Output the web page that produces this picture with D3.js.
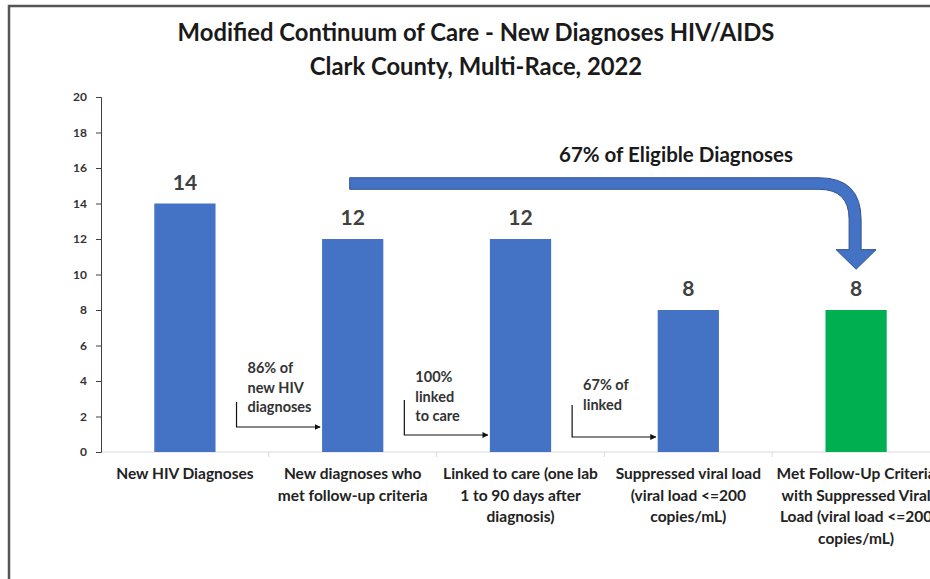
<!DOCTYPE html>
<meta charset="utf-8">
<html>
<style>
	body { margin: 0; background: #fff; }
	text { font-family: Lato, "Open Sans", sans-serif; font-weight: bold; }
	.title { font-size: 23.8px; fill: #1a1a1a; }
	.ylab text { font-size: 12px; fill: #333; }
	.cat { font-size: 15.5px; fill: #222; }
	.val { font-size: 21px; fill: #404040; }
	.note { font-size: 14.5px; fill: #333; }
</style>
<body>
	<script src="https://d3js.org/d3.v7.min.js"></script>
	<script type="text/javascript">
		// chart data
		var categories = ["New HIV Diagnoses", "New diagnoses who met follow-up criteria",
			"Linked to care (one lab 1 to 90 days after diagnosis)",
			"Suppressed viral load (viral load <=200 copies/mL)",
			"Met Follow-Up Criteria with Suppressed Viral Load (viral load <=200 copies/mL)"];
		var catLines = [
			["New HIV Diagnoses"],
			["New diagnoses who", "met follow-up criteria"],
			["Linked to care (one lab", "1 to 90 days after", "diagnosis)"],
			["Suppressed viral load", "(viral load <=200", "copies/mL)"],
			["Met Follow-Up Criteria", "with Suppressed Viral", "Load (viral load <=200", "copies/mL)"]
		];
		var values = [14, 12, 12, 8, 8];
		var barColors = ["#4472C4", "#4472C4", "#4472C4", "#4472C4", "#00B050"];
		var yTicks = [0, 2, 4, 6, 8, 10, 12, 14, 16, 18, 20];
		// step notes between bars: text lines, from bar index
		var stepNotes = [
			{ from: 0, lines: ["86% of", "new HIV", "diagnoses"] },
			{ from: 1, lines: ["100%", "linked", "to care"] },
			{ from: 2, lines: ["67% of", "linked"] }
		];
		var bigNote = "67% of Eligible Diagnoses";

		var width = 930, height = 579;

		var svg = d3.select("body")
			.append("svg")
			.attr("width", width)
			.attr("height", height);

		// frame
		svg.append("path")
			.attr("d", "M9,579V6H930")
			.attr("fill", "none")
			.attr("stroke", "#555")
			.attr("stroke-width", 2.5);

		var x = d3.scaleBand()
			.domain(categories)
			.range([101, 940])
			.paddingInner(0.635)
			.paddingOuter(0.3175);

		var y = d3.scaleLinear()
			.domain([0, 20])
			.range([452, 97]);

		// titles
		svg.append("text").attr("class", "title")
			.attr("x", 476).attr("y", 41).attr("text-anchor", "middle")
			.text("Modified Continuum of Care - New Diagnoses HIV/AIDS");
		svg.append("text").attr("class", "title")
			.attr("x", 476).attr("y", 75).attr("text-anchor", "middle")
			.text("Clark County, Multi-Race, 2022");

		// x baseline + band boundary ticks
		var step = x.step();
		svg.append("line")
			.attr("x1", 101).attr("x2", 940)
			.attr("y1", y(0)).attr("y2", y(0))
			.attr("stroke", "#d9d9d9");
		svg.selectAll(".xtick")
			.data(d3.range(1, categories.length + 1))
			.enter().append("line")
			.attr("x1", function (k) { return 101 + k * step; })
			.attr("x2", function (k) { return 101 + k * step; })
			.attr("y1", y(0)).attr("y2", y(0) + 5)
			.attr("stroke", "#d9d9d9");

		// bars
		svg.selectAll(".bar")
			.data(values)
			.enter().append("rect")
			.attr("x", function (d, i) { return x(categories[i]); })
			.attr("y", function (d) { return y(d); })
			.attr("width", x.bandwidth())
			.attr("height", function (d) { return y(0) - y(d); })
			.attr("fill", function (d, i) { return barColors[i]; });

		// value labels
		svg.selectAll(".val")
			.data(values)
			.enter().append("text")
			.attr("class", "val")
			.attr("text-anchor", "middle")
			.attr("x", function (d, i) { return x(categories[i]) + x.bandwidth() / 2; })
			.attr("y", function (d) { return y(d) - 14; })
			.text(function (d) { return d; });

		// y axis
		var yAxis = svg.append("g")
			.attr("class", "ylab")
			.attr("transform", "translate(101,0)")
			.call(d3.axisLeft(y).tickValues(yTicks).tickSize(5).tickPadding(9));
		yAxis.select(".domain").attr("stroke", "#404040");
		yAxis.selectAll(".tick line").attr("stroke", "#404040");
		yAxis.selectAll("text").attr("font-family", "Lato, sans-serif");

		// category labels
		var cat = svg.selectAll(".cat")
			.data(catLines)
			.enter().append("text")
			.attr("class", "cat")
			.attr("text-anchor", "middle")
			.attr("transform", function (d, i) {
				return "translate(" + (x(categories[i]) + x.bandwidth() / 2) + ",479)";
			});
		cat.selectAll("tspan")
			.data(function (d) { return d; })
			.enter().append("tspan")
			.attr("x", 0)
			.attr("y", function (d, j) { return j * 21.5; })
			.text(function (d) { return d; });

		// arrowhead marker
		svg.append("defs").append("marker")
			.attr("id", "head")
			.attr("viewBox", "0 0 10 10")
			.attr("refX", 9).attr("refY", 5)
			.attr("markerWidth", 6).attr("markerHeight", 6)
			.attr("markerUnits", "userSpaceOnUse")
			.attr("orient", "auto")
			.append("path")
			.attr("d", "M0,0L10,5L0,10Z")
			.attr("fill", "#111");

		// step notes with bent arrows
		var noteTop = [368, 377, 385];
		var bendTop = [402, 400, 405];
		var bendBottom = [427, 435, 437];
		stepNotes.forEach(function (n, k) {
			var right = x(categories[n.from]) + x.bandwidth();
			var next = x(categories[n.from + 1]);
			var vx = right + 21;
			svg.append("path")
				.attr("d", "M" + vx + "," + bendTop[k] + "V" + bendBottom[k] + "H" + (next - 2))
				.attr("fill", "none")
				.attr("stroke", "#111")
				.attr("stroke-width", 1.2)
				.attr("marker-end", "url(#head)");
			var t = svg.append("text").attr("class", "note")
				.attr("transform", "translate(" + (vx + 11) + "," + (noteTop[k] + 5) + ")");
			t.selectAll("tspan").data(n.lines).enter().append("tspan")
				.attr("x", 0)
				.attr("y", function (d, j) { return j * 19.5; })
				.text(function (d) { return d; });
		});

		// big curved arrow from bar 2 to bar 5
		var ax0 = x(categories[1]) + x.bandwidth() / 2 - 3;
		var tipX = x(categories[4]) + x.bandwidth() / 2;
		var arrTop = y(15.45), arrBot = y(14.8);
		var outerX = tipX + 5, innerX = tipX - 7;
		var headY = y(11.4), tipY = y(10.3);
		var r = 42;
		var arrow = "M" + ax0 + "," + arrTop +
			"H" + (outerX - r) +
			"Q" + outerX + "," + arrTop + " " + outerX + "," + (arrTop + r) +
			"V" + headY + "H" + (tipX + 20) +
			"L" + tipX + "," + tipY +
			"L" + (tipX - 20) + "," + headY +
			"H" + innerX +
			"V" + (arrBot + r - 12) +
			"Q" + innerX + "," + arrBot + " " + (innerX - (r - 12)) + "," + arrBot +
			"H" + ax0 + "Z";
		svg.append("path")
			.attr("d", arrow)
			.attr("fill", "#4472C4")
			.attr("stroke", "#2F528F")
			.attr("stroke-width", 1);

		svg.append("text")
			.attr("x", 676).attr("y", 162)
			.attr("text-anchor", "middle")
			.attr("font-size", "20.5px")
			.attr("fill", "#1a1a1a")
			.text(bigNote);
	</script>
</body>
</html>
